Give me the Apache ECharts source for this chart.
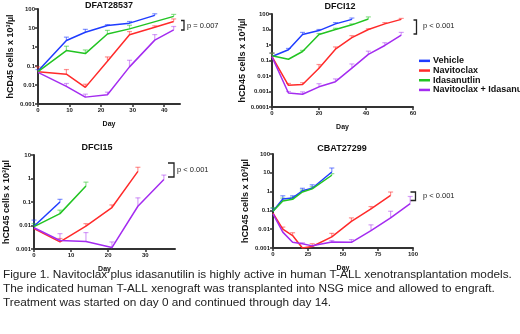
<!DOCTYPE html>
<html>
<head>
<meta charset="utf-8">
<script src="https://cdn.jsdelivr.net/npm/echarts@6/dist/echarts.min.js"></script>
<style>
  html, body { margin: 0; padding: 0; background: #fff; }
  #main { width: 520px; height: 334px; }
</style>
</head>
<body>
<div id="main"></div>
<script>
// ---- data (hCD45 cells x 10^3/ul, mean and upper error bar) ----
var seriesNames = ['Vehicle', 'Navitoclax', 'Idasanutlin', 'Navitoclax + Idasanutlin'];
var panelTitles = ['DFAT28537', 'DFCI12', 'DFCI15', 'CBAT27299'];
var pValues = ['p = 0.007', 'p < 0.001', 'p < 0.001', 'p < 0.001'];

var p1Days = [0, 9, 15, 22, 29, 37, 43];
var p1Vehicle = [0.054, 2.2, 6.0, 13.5, 18, 46, null];
var p1VehicleErr = [0.065, 3.3, 8.5, 15, 22, 56, null];
var p1Navitoclax = [0.05, 0.037, 0.0075, 0.18, 4.4, 11, 22];
var p1NavitoclaxErr = [0.09, 0.065, 0.011, 0.3, 6.5, 13, 30];
var p1Idasanutlin = [0.05, 0.65, 0.45, 4.8, 9, null, 41];
var p1IdasanutlinErr = [null, 1.1, 0.7, 7.5, 14, null, 52];
var p1Combo = [0.046, 0.0085, 0.0023, 0.0031, 0.09, 2.3, 8];
var p1ComboErr = [null, 0.012, 0.0033, 0.0042, 0.2, 4.5, 12];

var p2Days = [0, 7, 13, 20, 27, 34, 41, 48, 55];
var p2Vehicle = [0.18, 0.49, 4.7, 8.5, 23, 45, null, null, null];
var p2VehicleErr = [0.3, 0.6, 6.5, 10, 28, 55, null, null, null];
var p2Navitoclax = [0.18, 0.0025, 0.0028, 0.032, 0.54, 3, 10, 23, 45];
var p2NavitoclaxErr = [0.3, 0.0033, 0.0037, 0.055, 0.75, 4, 11, 28, 52];
var p2Idasanutlin = [0.2, 0.12, 0.38, 4.7, 10, 20, 48, null, null];
var p2IdasanutlinErr = [0.3, null, 0.45, 5.5, 12, 23, 65, null, null];
var p2Combo = [0.17, 0.0008, 0.00066, 0.002, 0.0043, 0.032, 0.25, 0.93, 4.3];
var p2ComboErr = [null, 0.001, 0.00095, 0.0032, 0.0065, 0.06, 0.4, 1.4, 6.5];

var p3Days = [0, 7, 14, 21, 28, 35];
var p3Vehicle = [0.0093, 0.1, null, null, null, null];
var p3VehicleErr = [0.017, 0.13, null, null, null, null];
var p3Navitoclax = [0.0074, 0.002, 0.0095, 0.058, 2.0, null];
var p3NavitoclaxErr = [null, 0.0028, 0.012, 0.075, 3.0, null];
var p3Idasanutlin = [0.009, 0.032, 0.48, null, null, null];
var p3IdasanutlinErr = [0.012, 0.045, 0.7, null, null, null];
var p3Combo = [0.008, 0.0023, 0.0021, 0.00115, 0.066, 0.91];
var p3ComboErr = [null, 0.0045, 0.005, 0.002, 0.15, 1.4];

var p4Days = [0, 7, 14, 21, 28, 42, 56, 70, 84, 98];
var p4Vehicle = [0.09, 0.4, 0.46, 1.1, 1.5, 11, null, null, null, null];
var p4VehicleErr = [0.13, 0.6, 0.6, 1.5, 2.3, 18, null, null, null, null];
var p4Navitoclax = [0.072, 0.01, 0.0046, 0.001, 0.0012, 0.0039, 0.026, 0.12, 0.63, null];
var p4NavitoclaxErr = [null, 0.013, 0.0065, null, 0.0017, 0.006, 0.04, 0.16, 0.95, null];
var p4Idasanutlin = [0.09, 0.32, 0.39, 0.95, 1.4, 7.4, null, null, null, null];
var p4IdasanutlinErr = [0.14, 0.45, 0.5, 1.2, 1.8, 9, null, null, null, null];
var p4Combo = [0.065, 0.007, 0.002, 0.0017, 0.0013, 0.0021, 0.002, 0.0083, 0.04, 0.23];
var p4ComboErr = [null, null, null, 0.0019, null, 0.0025, 0.0028, 0.017, 0.09, 0.55];

var p1XTicks = [0, 10, 20, 30, 40];
var p2XTicks = [0, 20, 40, 60];
var p3XTicks = [0, 10, 20, 30];
var p4XTicks = [0, 25, 50, 75, 100];

var captionLines = [
    'Figure 1. Navitoclax plus idasanutilin is highly active in human T-ALL xenotransplantation models.',
    'The indicated human T-ALL xenograft was transplanted into NSG mice and allowed to engraft.',
    'Treatment was started on day 0 and continued through day 14.'
];

// ---- styling ----
var FONT = 'Liberation Sans';
var lineColors = ['#1f3cff', '#ff2a2a', '#22c422', '#a42cf0'];
var errColors = ['rgba(31,60,255,0.55)', 'rgba(255,42,42,0.5)', 'rgba(34,196,34,0.5)', 'rgba(164,44,240,0.45)'];
var axisCol = '#333';

var panels = [
    { days: p1Days, rows: [[p1Vehicle, p1VehicleErr], [p1Navitoclax, p1NavitoclaxErr], [p1Idasanutlin, p1IdasanutlinErr], [p1Combo, p1ComboErr]],
      grid: { left: 38, top: 9, width: 142, height: 95 }, xMax: 45, xTicks: p1XTicks, yMin: 0.001, yMax: 100, decades: 5 },
    { days: p2Days, rows: [[p2Vehicle, p2VehicleErr], [p2Navitoclax, p2NavitoclaxErr], [p2Idasanutlin, p2IdasanutlinErr], [p2Combo, p2ComboErr]],
      grid: { left: 272, top: 14, width: 141, height: 93 }, xMax: 60, xTicks: p2XTicks, yMin: 0.0001, yMax: 100, decades: 6 },
    { days: p3Days, rows: [[p3Vehicle, p3VehicleErr], [p3Navitoclax, p3NavitoclaxErr], [p3Idasanutlin, p3IdasanutlinErr], [p3Combo, p3ComboErr]],
      grid: { left: 34, top: 155, width: 141, height: 94 }, xMax: 38, xTicks: p3XTicks, yMin: 0.001, yMax: 10, decades: 4 },
    { days: p4Days, rows: [[p4Vehicle, p4VehicleErr], [p4Navitoclax, p4NavitoclaxErr], [p4Idasanutlin, p4IdasanutlinErr], [p4Combo, p4ComboErr]],
      grid: { left: 273, top: 154, width: 140, height: 94 }, xMax: 100, xTicks: p4XTicks, yMin: 0.001, yMax: 100, decades: 5 }
];

function renderErr(params, api) {
    var x = api.value(0), v = api.value(1), e = api.value(2);
    var a = api.coord([x, v]);
    var b = api.coord([x, e]);
    var st = { stroke: api.visual('color'), lineWidth: 1.2 };
    return {
        type: 'group',
        children: [
            { type: 'line', shape: { x1: a[0], y1: a[1], x2: b[0], y2: b[1] }, style: st },
            { type: 'line', shape: { x1: b[0] - 2.5, y1: b[1], x2: b[0] + 2.5, y2: b[1] }, style: st }
        ]
    };
}

var grids = [], xAxes = [], yAxes = [], series = [];

panels.forEach(function (p, gi) {
    grids.push(p.grid);
    xAxes.push({
        gridIndex: gi, type: 'value', min: 0, max: p.xMax,
        name: 'Day', nameLocation: 'middle', nameGap: 17,
        nameTextStyle: { fontFamily: FONT, fontWeight: 'bold', fontSize: 7, color: '#111' },
        axisLine: { show: true, onZero: false, lineStyle: { color: axisCol, width: 2 } },
        axisTick: { show: true, length: 3, lineStyle: { color: axisCol, width: 1.5 }, customValues: p.xTicks },
        axisLabel: { fontFamily: FONT, fontWeight: 'bold', fontSize: 6, color: '#222', margin: 3, customValues: p.xTicks },
        splitLine: { show: false }
    });
    yAxes.push({
        gridIndex: gi, type: 'log', logBase: 10, min: p.yMin, max: p.yMax, splitNumber: p.decades,
        name: 'hCD45 cells x 10³/µl', nameLocation: 'middle', nameGap: 23,
        nameTextStyle: { fontFamily: FONT, fontWeight: 'bold', fontSize: 9, color: '#111' },
        axisLine: { show: true, lineStyle: { color: axisCol, width: 2 } },
        axisTick: { show: true, length: 3, lineStyle: { color: axisCol, width: 1.5 } },
        axisLabel: {
            fontFamily: FONT, fontWeight: 'bold', fontSize: 6, color: '#222', margin: 3,
            formatter: function (v) { return String(+(+v).toPrecision(3)); }
        },
        splitLine: { show: false }
    });

    p.rows.forEach(function (row, si) {
        var vals = row[0], errs = row[1];
        var pts = [], bars = [];
        p.days.forEach(function (d, i) {
            if (vals[i] != null) pts.push([d, vals[i]]);
            if (vals[i] != null && errs[i] != null) bars.push([d, vals[i], errs[i]]);
        });
        series.push({
            type: 'custom', xAxisIndex: gi, yAxisIndex: gi,
            renderItem: renderErr, data: bars, encode: { x: 0, y: [1, 2] },
            itemStyle: { color: errColors[si] }, silent: true, z: 1
        });
        series.push({
            name: seriesNames[si], type: 'line', xAxisIndex: gi, yAxisIndex: gi,
            data: pts, showSymbol: false, symbol: 'none',
            lineStyle: { color: lineColors[si], width: 1.5 },
            itemStyle: { color: lineColors[si] }, z: 2
        });
    });
});

// p-value brackets: [x, yTop, yBottom, armLength, textX, textY]
var brackets = [
    [184, 20.5, 30, 3, 187, 25.5],
    [416.5, 20, 34, 3, 423, 25.5],
    [174, 163, 177, 6, 177, 170],
    [415.5, 192, 200.5, 5, 423, 196]
];

var graphics = [];
var titlePos = [[109, 6], [340, 7], [97, 148], [342, 149]];
panelTitles.forEach(function (t, i) {
    graphics.push({
        type: 'text', x: titlePos[i][0], y: titlePos[i][1],
        style: { text: t, font: 'bold 9px "' + FONT + '"', fill: '#111', textAlign: 'center', textVerticalAlign: 'middle' }
    });
});
brackets.forEach(function (b, i) {
    graphics.push({
        type: 'polyline',
        shape: { points: [[b[0] - b[3], b[1]], [b[0], b[1]], [b[0], b[2]], [b[0] - b[3], b[2]]] },
        style: { stroke: '#222', lineWidth: 1.3, fill: null }
    });
    graphics.push({
        type: 'text', x: b[4], y: b[5],
        style: { text: pValues[i], font: '7.5px "' + FONT + '"', fill: '#222', textVerticalAlign: 'middle' }
    });
});
graphics.push({
    type: 'text', x: 3, y: 268,
    style: { text: captionLines.join('\n'), font: '11.8px "' + FONT + '"', lineHeight: 13.8, fill: '#222', textVerticalAlign: 'top' }
});

var option = {
    animation: false,
    backgroundColor: '#fff',
    textStyle: { fontFamily: FONT },
    legend: {
        data: seriesNames, orient: 'vertical', left: 419, top: 56,
        icon: 'rect', itemWidth: 11, itemHeight: 2.5, itemGap: 0,
        textStyle: { fontFamily: FONT, fontWeight: 'bold', fontSize: 9, color: '#111', lineHeight: 9.7, padding: [0, 0, 0, -2] },
        padding: 0
    },
    grid: grids,
    xAxis: xAxes,
    yAxis: yAxes,
    series: series,
    graphic: graphics
};

var chart = echarts.init(document.getElementById('main'), null, { renderer: 'canvas' });
chart.setOption(option);
</script>
</body>
</html>
